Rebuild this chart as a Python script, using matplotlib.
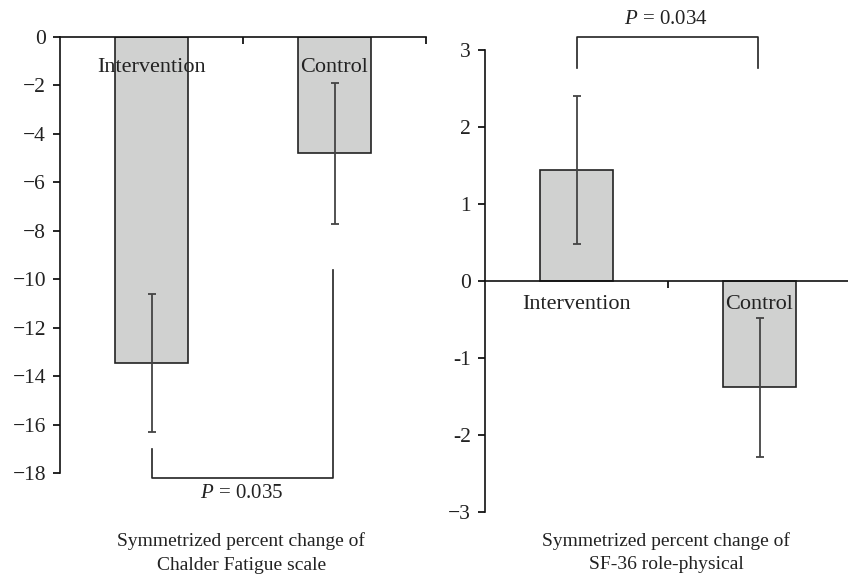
import matplotlib
matplotlib.use("Agg")
import matplotlib.pyplot as plt

# Data
categories = ["Intervention", "Control"]
fatigue_means = [-13.45, -4.8]
fatigue_err = [2.85, 2.9]
role_means = [1.44, -1.38]
role_err = [0.96, 0.9]
fatigue_yticks = [0, -2, -4, -6, -8, -10, -12, -14, -16, -18]
fatigue_yticklabels = ["0", "\u22122", "\u22124", "\u22126", "\u22128", "\u221210",
                       "\u221212", "\u221214", "\u221216", "\u221218"]
role_yticks = [3, 2, 1, 0, -1, -2, -3]
role_yticklabels = ["3", "2", "1", "0", "-1", "-2", "\u22123"]
fatigue_p = "0.035"
role_p = "0.034"

plt.rcParams["font.family"] = ["Liberation Serif", "DejaVu Serif"]
plt.rcParams["mathtext.fontset"] = "custom"
plt.rcParams["mathtext.it"] = "Liberation Serif:italic"
plt.rcParams["mathtext.rm"] = "Liberation Serif"

W, H = 848, 575
fig = plt.figure(figsize=(W / 100, H / 100), dpi=100)

bar_color = "#d0d1d0"
edge = "#222222"
err_color = "#444444"
fs_tick = 15.5
fs_cat = 16
fs_p = 15
fs_lab = 14

def px_axes(x0, x1, ytop, ybot):
    return fig.add_axes([x0 / W, 1 - ybot / H, (x1 - x0) / W, (ybot - ytop) / H])

def style(ax):
    for s in ["top", "right"]:
        ax.spines[s].set_visible(False)
    ax.spines["bottom"].set_position(("data", 0))
    for s in ["left", "bottom"]:
        ax.spines[s].set_linewidth(1.2)
        ax.spines[s].set_color("#111111")
    ax.tick_params(axis="y", direction="out", length=5, width=1.2, labelsize=fs_tick, pad=5,
                   labelcolor="#222222")
    ax.tick_params(axis="x", direction="out", length=5, width=1.2, labelbottom=False)
    ax.set_xlim(-0.5, 1.5)

x = list(range(len(categories)))

# Left panel
ax1 = px_axes(60, 426, 37, 473)
ax1.bar(x, fatigue_means, width=0.4, color=bar_color, edgecolor=edge, linewidth=1.2, zorder=2)
ax1.errorbar(x, fatigue_means, yerr=fatigue_err, fmt="none", ecolor=err_color,
             elinewidth=1.3, capsize=3, capthick=1.3, zorder=3)
ax1.set_ylim(-18, 0)
ax1.set_yticks(fatigue_yticks)
ax1.set_yticklabels(fatigue_yticklabels)
style(ax1)
ax1.set_xticks([0.5, 1.5])
for i, c in enumerate(categories):
    ax1.text(x[i], -1.25, c, ha="center", va="center", fontsize=fs_cat, color="#222222", zorder=4)
ax1.plot([0, 0, 0.99, 0.99], [-17.0, -18.2, -18.2, -9.6], color=edge, lw=1.2, clip_on=False)
ax1.text(0.49, -18.85, r"$P$ = " + fatigue_p, ha="center", va="center", fontsize=fs_p,
         color="#222222")
ax1.text(0.49, -21.3, "Symmetrized percent change of\nChalder Fatigue scale",
         ha="center", va="center", fontsize=fs_lab, linespacing=1.5, color="#222222")

# Right panel
ax2 = px_axes(485, 851, 50, 512)
ax2.bar(x, role_means, width=0.4, color=bar_color, edgecolor=edge, linewidth=1.2, zorder=2)
ax2.errorbar(x, role_means, yerr=role_err, fmt="none", ecolor=err_color,
             elinewidth=1.3, capsize=3, capthick=1.3, zorder=3)
ax2.set_ylim(-3, 3)
ax2.set_yticks(role_yticks)
ax2.set_yticklabels(role_yticklabels)
style(ax2)
ax2.set_xticks([0.5])
for i, c in enumerate(categories):
    ax2.text(x[i], -0.31, c, ha="center", va="center", fontsize=fs_cat, color="#222222", zorder=4)
ax2.plot([0, 0, 0.99, 0.99], [2.77, 3.17, 3.17, 2.77], color=edge, lw=1.2, clip_on=False)
ax2.text(0.49, 3.39, r"$P$ = " + role_p, ha="center", va="center", fontsize=fs_p,
         color="#222222")
ax2.text(0.49, -3.53, "Symmetrized percent change of\nSF-36 role-physical",
         ha="center", va="center", fontsize=fs_lab, linespacing=1.5, color="#222222")

fig.savefig("out.png", dpi=100)
